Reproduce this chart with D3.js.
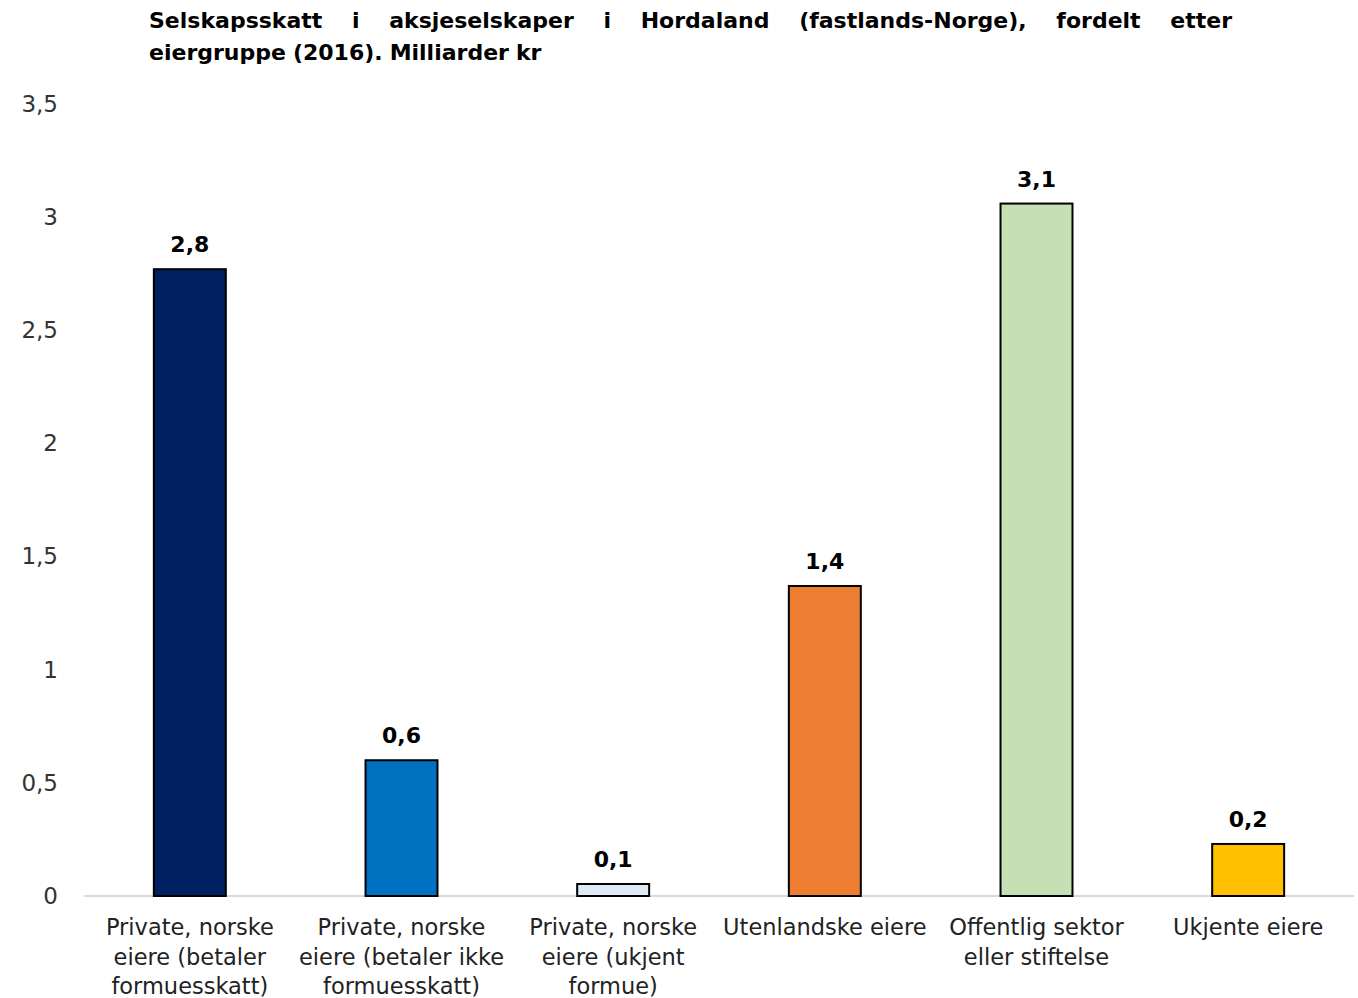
<!DOCTYPE html>
<html>
<head>
<meta charset="utf-8">
<script src="https://cdn.jsdelivr.net/npm/d3@7"></script>
<style>
  body { margin: 0; background: #fff; }
  svg text { font-family: "DejaVu Sans", sans-serif; }
</style>
</head>
<body>
<script>
// data
var categories = [
  ["Private, norske", "eiere (betaler", "formuesskatt)"],
  ["Private, norske", "eiere (betaler ikke", "formuesskatt)"],
  ["Private, norske", "eiere (ukjent", "formue)"],
  ["Utenlandske eiere"],
  ["Offentlig sektor", "eller stiftelse"],
  ["Ukjente eiere"]
];
var values = [2.77, 0.60, 0.053, 1.37, 3.06, 0.23];
var colors = ["#002060", "#0070C0", "#DEEBF7", "#ED7D31", "#C5E0B4", "#FFC000"];
var yTicks = [0, 0.5, 1, 1.5, 2, 2.5, 3, 3.5];
var titleLines = [
  "Selskapsskatt i aksjeselskaper i Hordaland (fastlands-Norge), fordelt etter",
  "eiergruppe (2016). Milliarder kr"
];

var W = 1358, H = 998;
var margin = {top: 104, right: 4, bottom: 102, left: 84};
var width = W - margin.left - margin.right,
    height = H - margin.top - margin.bottom;

var comma = function(v) { return String(v).replace(".", ","); };

var svg = d3.select("body").append("svg")
    .attr("width", W)
    .attr("height", H);

// title, justified like the original
var title = svg.append("g").attr("font-weight", "bold").attr("font-size", 22);
titleLines.forEach(function(line, li) {
  var words = line.split(" ");
  var y = 28 + li * 32;
  var nodes = words.map(function(w) {
    return title.append("text").attr("y", y).text(w);
  });
  var widths = nodes.map(function(n) { return n.node().getComputedTextLength(); });
  var x0 = 149, x1 = 1232;
  var gap = 7;
  if (li === 0) {
    gap = (x1 - x0 - d3.sum(widths)) / (words.length - 1);
  }
  var x = x0;
  nodes.forEach(function(n, i) {
    n.attr("x", x);
    x += widths[i] + gap;
  });
});

var g = svg.append("g")
    .attr("transform", "translate(" + margin.left + "," + margin.top + ")");

var x = d3.scaleBand()
    .domain(d3.range(categories.length))
    .range([0, width])
    .paddingInner(0.66)
    .paddingOuter(0.33);

var y = d3.scaleLinear()
    .domain([0, 3.5])
    .range([height, 0]);

// y axis labels only
var yAxis = g.append("g")
    .call(d3.axisLeft(y).tickValues(yTicks).tickSize(0).tickPadding(26)
      .tickFormat(function(d) { return comma(d); }));
yAxis.select(".domain").remove();
yAxis.selectAll("text")
    .attr("font-size", 23)
    .attr("fill", "#333")
    .attr("font-family", "DejaVu Sans, sans-serif");

// baseline
g.append("line")
    .attr("x1", 0).attr("x2", width)
    .attr("y1", y(0)).attr("y2", y(0))
    .attr("stroke", "#d9d9d9")
    .attr("stroke-width", 2);

// bars
g.selectAll(".bar")
    .data(values)
  .enter().append("rect")
    .attr("class", "bar")
    .attr("x", function(d, i) { return x(i); })
    .attr("y", function(d) { return y(d); })
    .attr("width", x.bandwidth())
    .attr("height", function(d) { return y(0) - y(d); })
    .attr("fill", function(d, i) { return colors[i]; })
    .attr("stroke", "#000")
    .attr("stroke-width", 2);

// value labels
g.selectAll(".val")
    .data(values)
  .enter().append("text")
    .attr("class", "val")
    .attr("x", function(d, i) { return x(i) + x.bandwidth() / 2; })
    .attr("y", function(d) { return y(d) - 17; })
    .attr("text-anchor", "middle")
    .attr("font-size", 22)
    .attr("font-weight", "bold")
    .attr("fill", "#000")
    .text(function(d) { return comma(d.toFixed(1)); });

// category labels
var cat = g.selectAll(".cat")
    .data(categories)
  .enter().append("text")
    .attr("class", "cat")
    .attr("text-anchor", "middle")
    .attr("font-size", 22.5)
    .attr("fill", "#222")
    .attr("transform", function(d, i) {
      return "translate(" + (x(i) + x.bandwidth() / 2) + "," + (y(0) + 39) + ")";
    });
cat.selectAll("tspan")
    .data(function(d) { return d; })
  .enter().append("tspan")
    .attr("x", 0)
    .attr("dy", function(d, i) { return i === 0 ? 0 : 29.5; })
    .text(function(d) { return d; });
</script>
</body>
</html>
